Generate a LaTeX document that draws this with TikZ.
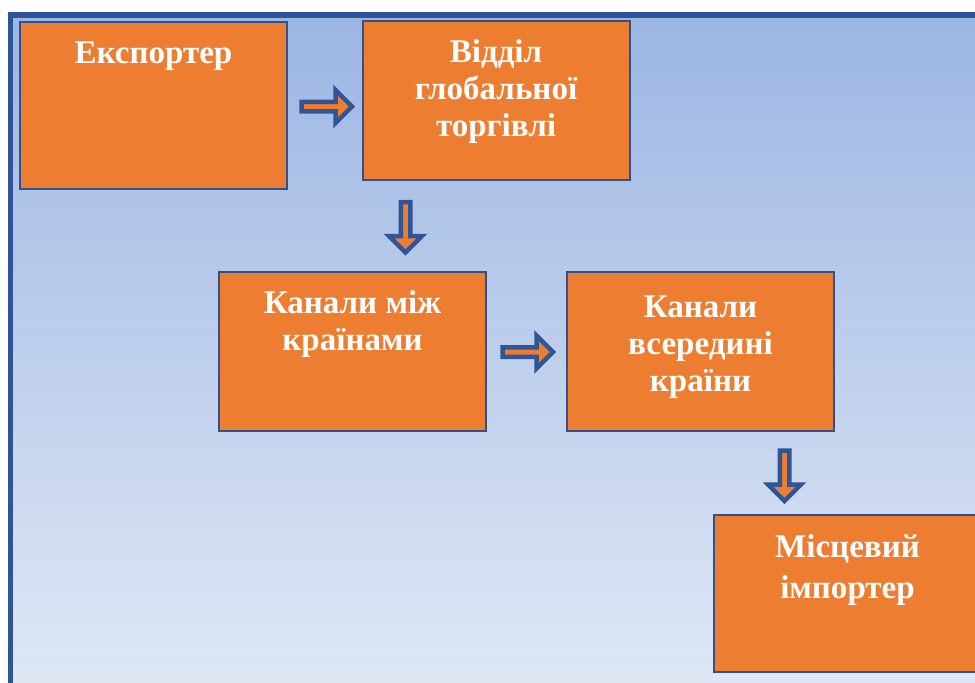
\documentclass[tikz,border=0pt]{standalone}
\usepackage{fontspec}
\setmainfont{Liberation Serif}
\usepackage{xcolor}
\usetikzlibrary{calc}
\usetikzlibrary{shapes,arrows}
\usetikzlibrary{positioning}
\definecolor{boxorange}{HTML}{ED7D31}
\definecolor{boxline}{HTML}{2F528F}
\definecolor{frameblue}{HTML}{2F5597}
\definecolor{bgtop}{HTML}{9CB6E3}
\definecolor{bgbottom}{HTML}{E0E8F5}

\begin{document}
\begin{tikzpicture}[
		box/.style={draw=boxline, line width=0.04cm, fill=boxorange, minimum width=5.34cm, inner sep=0},
		lbl/.style={anchor=north, inner sep=0, align=center, text=white, font=\bfseries\fontsize{18.8pt}{21.3pt}\selectfont},
		flowarrow/.pic={
			\draw[frameblue, line width=0.09cm, fill=boxorange, line join=miter]
				(-0.51,-0.095) -- (0.17,-0.095) -- (0.17,-0.33) -- (0.5,0)
				-- (0.17,0.33) -- (0.17,0.095) -- (-0.51,0.095) -- cycle;
		}
	]
	\useasboundingbox (0,0) rectangle (19.5,-13.64);
	\clip (0,0) rectangle (19.5,-13.64);
	% Background panel
	\shade[top color=bgtop, bottom color=bgbottom] (0.21,-0.3) rectangle (19.8,-13.9);
	\draw[frameblue, line width=0.11cm] (0.21,-14.2) |- (20,-0.3);
	% Exporter
	\node[box, minimum height=3.34cm] (exp) at (3.07,-2.11) {};
	\node[lbl] (expt) at ([yshift=-0.32cm]exp.north) {\strut Експортер};
	% Global trade department
	\node[box, minimum height=3.18cm] (gt) at (9.92,-2.01) {};
	\node[lbl] (gtt) at ([yshift=-0.31cm]gt.north) {\strut Відділ\\глобальної\\торгівлі};
	% Channels between countries
	\node[box, minimum height=3.18cm] (btw) at (7.05,-7.03) {};
	\node[lbl] (btwt) at ([yshift=-0.31cm]btw.north) {\strut Канали між\\країнами};
	% Channels inside the country
	\node[box, minimum height=3.18cm] (ins) at (14.01,-7.03) {};
	\node[lbl] (inst) at ([yshift=-0.39cm]ins.north) {\strut Канали\\всередині\\країни};
	% Local importer
	\node[box, minimum height=3.14cm] (imp) at (16.95,-11.87) {};
	\node[lbl, font=\bfseries\fontsize{18.8pt}{23.2pt}\selectfont] (impt) at ([yshift=-0.3cm]imp.north) {\strut Місцевий\\імпортер};
	% Block arrows
	\pic (a1) at (6.54,-2.13) {flowarrow};
	\pic[rotate=-90] (a2) at (8.11,-4.55) {flowarrow};
	\pic (a3) at (10.56,-7.04) {flowarrow};
	\pic[rotate=-90] (a4) at (15.69,-9.52) {flowarrow};
\end{tikzpicture}
\end{document}
